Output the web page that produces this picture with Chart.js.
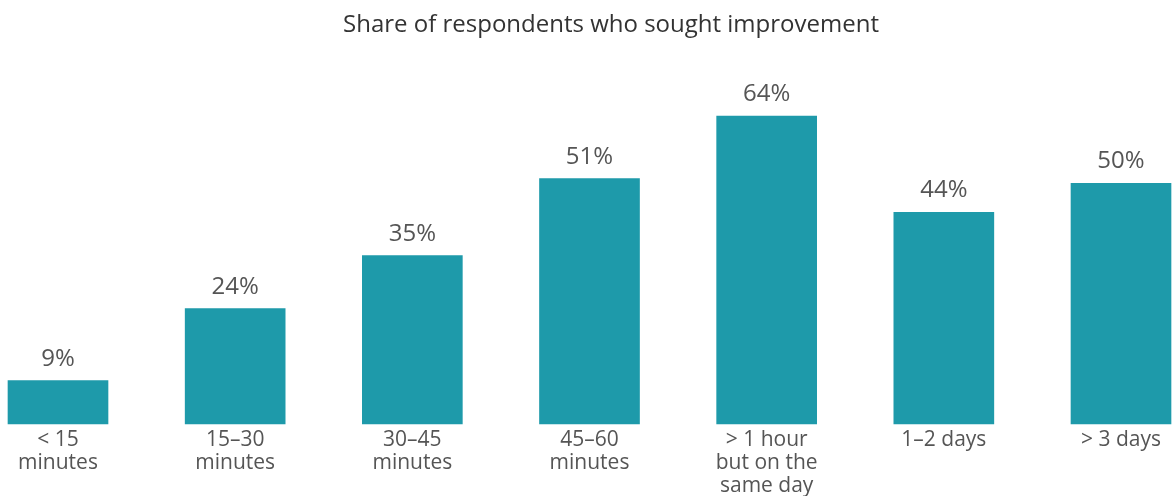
<!DOCTYPE html>
<html>
<head>
<meta charset="utf-8">
<script src="https://cdn.jsdelivr.net/npm/chart.js@4"></script>
<style>
  html, body { margin: 0; padding: 0; background: #fff; }
  #wrap { width: 1174px; height: 496px; position: relative; }
</style>
</head>
<body>
<div id="wrap"><canvas id="chart"></canvas></div>
<script>
const categories = [
    ['< 15', 'minutes'],
    ['15\u201330', 'minutes'],
    ['30\u201345', 'minutes'],
    ['45\u201360', 'minutes'],
    ['> 1 hour', 'but on the', 'same day'],
    ['1\u20132 days'],
    ['> 3 days'],
];
const shares = [9, 24, 35, 51, 64, 44, 50];
const chartTitle = 'Share of respondents who sought improvement';

const FONT = '"Open Sans", "Noto Sans", sans-serif';

// Value labels above bars + title drawn manually
const labelPlugin = {
    id: 'barLabels',
    afterDatasetsDraw(chart) {
        const ctx = chart.ctx;
        ctx.save();
        ctx.fillStyle = '#555';
        ctx.font = `24px ${FONT}`;
        ctx.textAlign = 'center';
        ctx.textBaseline = 'alphabetic';
        chart.getDatasetMeta(0).data.forEach((bar, i) => {
            ctx.fillText(shares[i] + '%', bar.x, bar.y - 15);
        });
        ctx.fillStyle = '#333';
        ctx.font = `24px ${FONT}`;
        ctx.fillText(chartTitle, 611, 32);
        ctx.restore();
    },
};

new Chart(document.getElementById('chart'), {
    type: 'bar',
    data: {
        labels: categories,
        datasets: [{
            data: shares,
            backgroundColor: '#1e9aaa',
            barThickness: 100,
            clip: false,
        }],
    },
    options: {
        responsive: true,
        maintainAspectRatio: false,
        animation: false,
        layout: { padding: { left: 58, right: 53, top: 39, bottom: 0 } },
        plugins: {
            legend: { display: false },
            tooltip: { enabled: false },
            title: { display: false },
        },
        scales: {
            x: {
                offset: false,
                grid: { display: false, drawTicks: false },
                border: { display: false },
                ticks: {
                    color: '#555',
                    font: { family: FONT, size: 21, lineHeight: 1.1 },
                    padding: 4,
                    maxRotation: 0,
                    autoSkip: false,
                },
                afterFit(scale) { scale.height = 72; },
            },
            y: {
                display: false,
                min: 0,
                max: 80,
            },
        },
    },
    plugins: [labelPlugin],
});
</script>
</body>
</html>
